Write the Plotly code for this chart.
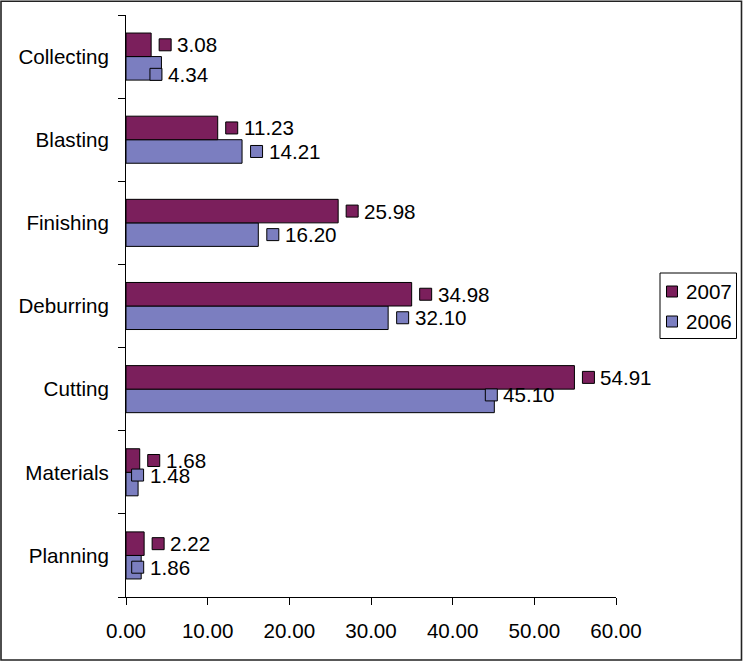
import plotly.graph_objects as go

# Categories listed bottom-to-top along the vertical axis
categories = ["Planning", "Materials", "Cutting", "Deburring", "Finishing", "Blasting", "Collecting"]
values_2007 = [2.22, 1.68, 54.91, 34.98, 25.98, 11.23, 3.08]
values_2006 = [1.86, 1.48, 45.10, 32.10, 16.20, 14.21, 4.34]
x_ticks = [0, 10, 20, 30, 40, 50, 60]

COLOR_2007 = "#7B1F5C"
COLOR_2006 = "#7B7EC0"
FONT = "Liberation Sans, Arial, sans-serif"
FS = 20.6

W, H = 743, 662
L, R, T, B = 126, 127, 15, 65
PW, PH = W - L - R, H - T - B


def px(xp):
    return (xp - L) / PW


def py(yp):
    return (H - B - yp) / PH


BARGAP = 0.434
half = (1 - BARGAP) / 4  # centre offset of each bar inside its group
ypos = list(range(len(categories)))

fig = go.Figure()
fig.add_trace(go.Bar(y=ypos, x=values_2006, orientation="h", name="2006",
                     marker=dict(color=COLOR_2006, line=dict(color="black", width=1))))
fig.add_trace(go.Bar(y=ypos, x=values_2007, orientation="h", name="2007",
                     marker=dict(color=COLOR_2007, line=dict(color="black", width=1))))

# label nudges in pixels (square left edge relative to bar end, vertical shift downward)
nudge_2006 = {1: (-6.5, -9), 0: (-9.5, 0), 2: (-9, -6), 6: (-11.5, 6)}
nudge_2007 = {}

shapes = []
annotations = []


def add_label(val, yc, color, dx, dy):
    shapes.append(dict(type="rect", xref="x", yref="y", xsizemode="pixel", ysizemode="pixel",
                       xanchor=val, yanchor=yc, x0=dx, x1=dx + 12, y0=-6 - dy, y1=6 - dy,
                       fillcolor=color, line=dict(color="black", width=1), layer="above"))
    annotations.append(dict(x=val, y=yc, xref="x", yref="y", text=f"{val:.2f}",
                            showarrow=False, xanchor="left", yanchor="middle",
                            xshift=dx + 16, yshift=-dy,
                            font=dict(family=FONT, size=FS, color="black")))


for i in ypos:
    dx, dy = nudge_2007.get(i, (8, 0))
    add_label(values_2007[i], i + half, COLOR_2007, dx, dy)
    dx, dy = nudge_2006.get(i, (8.5, 0))
    add_label(values_2006[i], i - half, COLOR_2006, dx, dy)

# legend box
shapes.append(dict(type="rect", xref="paper", yref="paper", x0=px(660), x1=px(736.5),
                   y0=py(338.5), y1=py(273), line=dict(color="black", width=1),
                   fillcolor="white", layer="above"))
for name, color, yc in [("2007", COLOR_2007, 291.5), ("2006", COLOR_2006, 321.5)]:
    shapes.append(dict(type="rect", xref="paper", yref="paper", x0=px(666.5), x1=px(677.5),
                       y0=py(yc + 5.5), y1=py(yc - 5.5), fillcolor=color,
                       line=dict(color="black", width=1), layer="above"))
    annotations.append(dict(x=px(684), y=py(yc), xref="paper", yref="paper", text=name,
                            showarrow=False, xanchor="left", yanchor="middle",
                            font=dict(family=FONT, size=FS, color="black")))

# outer frame
shapes.append(dict(type="rect", xref="paper", yref="paper", x0=px(1), x1=px(741.5),
                   y0=py(660), y1=py(1.2), line=dict(color="#222", width=1.6), layer="above"))

fig.update_layout(
    width=W, height=H,
    margin=dict(l=L, r=R, t=T, b=B),
    paper_bgcolor="white", plot_bgcolor="white",
    barmode="group", bargap=BARGAP, bargroupgap=0,
    showlegend=False,
    font=dict(family=FONT, size=FS, color="black"),
    shapes=shapes, annotations=annotations,
    xaxis=dict(range=[0, 60], tickvals=x_ticks, tickformat=".2f", ticks="outside",
               ticklen=7, tickcolor="black", showline=True, linecolor="black",
               linewidth=1, showgrid=False, zeroline=False, ticklabelstandoff=8,
               tickfont=dict(family=FONT, size=FS)),
    yaxis=dict(range=[-0.5, len(categories) - 0.5], tickvals=ypos, ticktext=categories,
               ticks="", showline=True, linecolor="black", linewidth=1,
               showgrid=False, zeroline=False, ticklabelstandoff=12,
               minor=dict(ticks="outside", tick0=-0.5, dtick=1, ticklen=7,
                          tickcolor="black", showgrid=False),
               tickfont=dict(family=FONT, size=FS)),
)

fig.write_html("out.html")
